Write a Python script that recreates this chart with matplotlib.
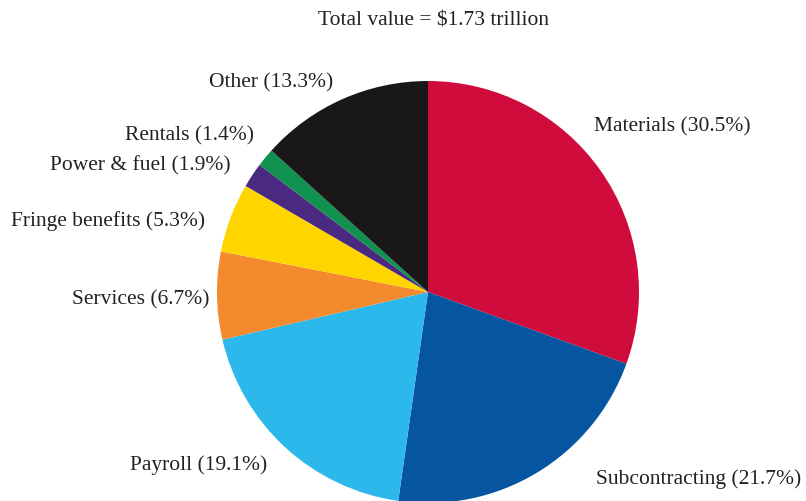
import numpy as np
import matplotlib.pyplot as plt

labels = ["Materials", "Subcontracting", "Payroll", "Services",
          "Fringe benefits", "Power & fuel", "Rentals", "Other"]
shares = [30.5, 21.7, 19.1, 6.7, 5.3, 1.9, 1.4, 13.3]
colors = ["#D00C3C", "#0555A0", "#2DB8EC", "#F48A2E",
          "#FFD500", "#4A2A80", "#119150", "#1A1718"]
title = "Total value = $1.73 trillion"

# label anchor positions in pixels (x, y from top) and alignment
lab_pos = [(594, 127, "left"), (596, 479, "left"), (130, 465, "left"),
           (209, 300, "right"), (205, 221, "right"), (231, 166, "right"),
           (254, 136, "right"), (333, 83, "right")]

W, H = 806, 501
fig = plt.figure(figsize=(W / 100, H / 100), dpi=100)
ax = fig.add_axes([0, 0, 1, 1])

ax.pie(shares, colors=colors, startangle=90, counterclock=False,
       center=(428, H - 292), radius=211, frame=True,
       wedgeprops=dict(linewidth=0))
ax.set_xlim(0, W)
ax.set_ylim(0, H)
ax.set_aspect("equal")
ax.axis("off")

font = ["Liberation Serif", "DejaVu Serif"]
for lab, s, (x, y, ha) in zip(labels, shares, lab_pos):
    ax.text(x, H - y, f"{lab} ({s}%)", ha=ha, va="center",
            fontsize=15.5, family=font, color="#222222")

ax.text(434, H - 21, title, ha="center", va="center",
        fontsize=15.5, family=font, color="#222222")

fig.savefig("out.png", dpi=100)
